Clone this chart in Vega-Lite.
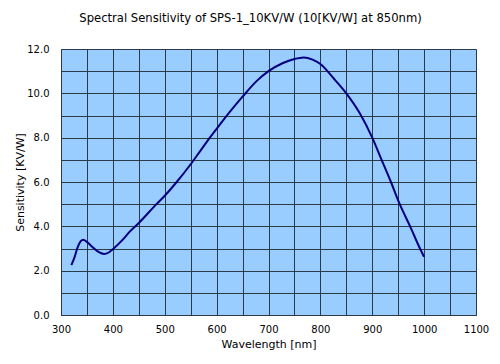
{
  "$schema": "https://vega.github.io/schema/vega-lite/v6.json",
  "width": 415,
  "height": 266,
  "autosize": {"type": "none"},
  "padding": {"left": 61, "top": 49, "right": 24, "bottom": 49},
  "background": "white",
  "title": {
    "text": "Spectral Sensitivity of SPS-1_10KV/W (10[KV/W] at 850nm)",
    "anchor": "middle",
    "dx": -18,
    "offset": 19,
    "fontSize": 11.6,
    "fontWeight": "normal",
    "font": "DejaVu Sans",
    "color": "black"
  },
  "config": {
    "view": {"fill": "#99CCFF", "stroke": "#a8a8a8", "strokeWidth": 1},
    "axis": {
      "labelFont": "DejaVu Sans",
      "titleFont": "DejaVu Sans",
      "labelFontSize": 10,
      "titleFontSize": 11,
      "titleFontWeight": "normal",
      "labelColor": "black",
      "titleColor": "black",
      "ticks": false,
      "gridColor": "#2b3a48",
      "gridOpacity": 1,
      "gridWidth": 1,
      "domainColor": "#2b3a48"
    }
  },
  "data": {
    "values": [
      {"wl": 320, "s": 2.25},
      {"wl": 326, "s": 2.6},
      {"wl": 332, "s": 3.05},
      {"wl": 338, "s": 3.33},
      {"wl": 343, "s": 3.4},
      {"wl": 350, "s": 3.3},
      {"wl": 360, "s": 3.08},
      {"wl": 370, "s": 2.88},
      {"wl": 383, "s": 2.75},
      {"wl": 392, "s": 2.82},
      {"wl": 400, "s": 2.97},
      {"wl": 420, "s": 3.42},
      {"wl": 433, "s": 3.77},
      {"wl": 450, "s": 4.15},
      {"wl": 484, "s": 5.0},
      {"wl": 500, "s": 5.38},
      {"wl": 523, "s": 6.0},
      {"wl": 550, "s": 6.8},
      {"wl": 570, "s": 7.45},
      {"wl": 587, "s": 8.0},
      {"wl": 600, "s": 8.4},
      {"wl": 625, "s": 9.15},
      {"wl": 650, "s": 9.85},
      {"wl": 677, "s": 10.55},
      {"wl": 700, "s": 11.0},
      {"wl": 728, "s": 11.37},
      {"wl": 750, "s": 11.55},
      {"wl": 768, "s": 11.62},
      {"wl": 785, "s": 11.52},
      {"wl": 800, "s": 11.32},
      {"wl": 825, "s": 10.69},
      {"wl": 850, "s": 10.0},
      {"wl": 876, "s": 9.1},
      {"wl": 900, "s": 8.0},
      {"wl": 918, "s": 7.0},
      {"wl": 936, "s": 6.0},
      {"wl": 953, "s": 5.0},
      {"wl": 973, "s": 4.0},
      {"wl": 992, "s": 3.0},
      {"wl": 1000, "s": 2.62}
    ]
  },
  "mark": {"type": "line", "color": "#000080", "strokeWidth": 2, "interpolate": "monotone"},
  "encoding": {
    "x": {
      "field": "wl",
      "type": "quantitative",
      "scale": {"domain": [300, 1100], "nice": false, "zero": false},
      "axis": {
        "title": "Wavelength [nm]",
        "values": [300, 350, 400, 450, 500, 550, 600, 650, 700, 750, 800, 850, 900, 950, 1000, 1050, 1100],
        "labelExpr": "datum.value % 100 == 0 ? datum.label : ''",
        "format": "d",
        "labelPadding": 9,
        "titlePadding": 4,
        "labelFlush": false,
        "labelOverlap": false
      }
    },
    "y": {
      "field": "s",
      "type": "quantitative",
      "scale": {"domain": [0, 12], "nice": false},
      "axis": {
        "title": "Sensitivity [KV/W]",
        "values": [0, 1, 2, 3, 4, 5, 6, 7, 8, 9, 10, 11, 12],
        "format": ".1f",
        "labelExpr": "datum.value % 2 == 0 ? datum.label : ''",
        "labelPadding": 12,
        "titlePadding": 1,
        "labelFlush": false,
        "labelOverlap": false
      }
    }
  }
}
